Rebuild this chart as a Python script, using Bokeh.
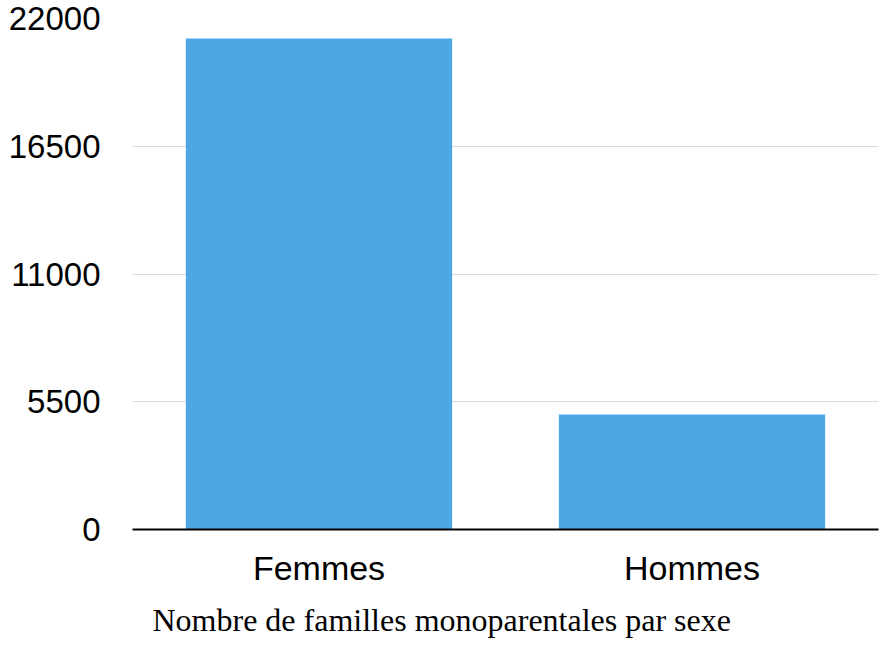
from bokeh.plotting import figure
from bokeh.models import Range1d, Title, FixedTicker
from bokeh.embed import file_html
from bokeh.resources import INLINE

# Single-parent families by sex
categories = ["Femmes", "Hommes"]
counts = [21140, 4950]
y_ticks = [0, 5500, 11000, 16500, 22000]
chart_title = "Nombre de familles monoparentales par sexe"

BAR_COLOR = "#4ca7e4"

p = figure(
    x_range=categories,
    y_range=Range1d(0, 22000),
    width=881,
    height=648,
    output_backend="svg",
    toolbar_location=None,
    min_border_left=132,
    min_border_right=3,
    min_border_top=18,
    min_border_bottom=119,
)

p.vbar(x=categories, top=counts, width=0.714, fill_color=BAR_COLOR, line_color=None)

p.outline_line_color = None
p.background_fill_color = "white"
p.border_fill_color = "white"

# horizontal grid only
p.xgrid.grid_line_color = None
p.ygrid.grid_line_color = "#dadada"
p.ygrid.grid_line_width = 1
p.yaxis.ticker = FixedTicker(ticks=y_ticks)

# y axis: labels only
p.yaxis.axis_line_color = None
p.yaxis.major_tick_line_color = None
p.yaxis.minor_tick_line_color = None
p.yaxis.major_tick_out = 0
p.yaxis.major_tick_in = 0
p.yaxis.major_label_standoff = 32
p.yaxis.major_label_text_font = "Liberation Sans"
p.yaxis.major_label_text_font_size = "33px"
p.yaxis.major_label_text_color = "black"

# x axis: black baseline and category names
p.xaxis.axis_line_color = "black"
p.xaxis.axis_line_width = 2
p.xaxis.major_tick_line_color = None
p.xaxis.minor_tick_line_color = None
p.xaxis.major_tick_out = 0
p.xaxis.major_tick_in = 0
p.xaxis.major_label_standoff = 19
p.xaxis.major_label_text_font = "Liberation Sans"
p.xaxis.major_label_text_font_size = "34px"
p.xaxis.major_label_text_color = "black"

title = Title(
    text=chart_title,
    align="left",
    offset=20,
    standoff=20,
    text_font="Liberation Serif",
    text_font_size="32px",
    text_font_style="normal",
    text_color="black",
)
p.add_layout(title, "below")

open("out.html", "w").write(file_html(p, INLINE))
